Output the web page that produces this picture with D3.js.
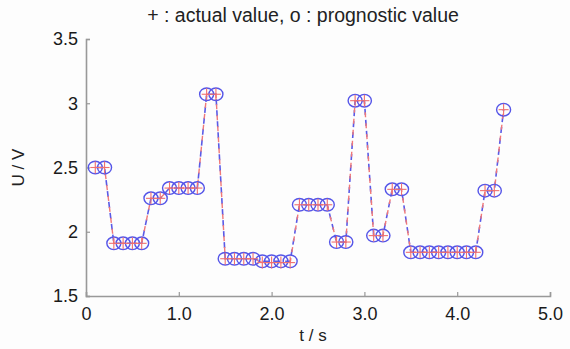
<!DOCTYPE html>
<html>
<head>
<meta charset="utf-8">
<script src="https://cdn.jsdelivr.net/npm/d3@7"></script>
<style>
  body { margin: 0; background: #fdfdfd; }
  svg { display: block; font-family: "Liberation Sans", Arial, sans-serif; }
</style>
</head>
<body>
<figure id="chart" style="margin:0"></figure>
<script>
// time samples (s)
const times = [0.1, 0.2, 0.3, 0.4, 0.5, 0.6, 0.7, 0.8, 0.9, 1.0,
  1.1, 1.2, 1.3, 1.4, 1.5, 1.6, 1.7, 1.8, 1.9, 2.0,
  2.1, 2.2, 2.3, 2.4, 2.5, 2.6, 2.7, 2.8, 2.9, 3.0,
  3.1, 3.2, 3.3, 3.4, 3.5, 3.6, 3.7, 3.8, 3.9, 4.0,
  4.1, 4.2, 4.3, 4.4, 4.5];
// actual voltage (+)
const actual = [2.50, 2.50, 1.91, 1.91, 1.91, 1.91, 2.26, 2.26, 2.34, 2.34,
  2.34, 2.34, 3.07, 3.07, 1.79, 1.79, 1.79, 1.79, 1.76, 1.76,
  1.76, 1.76, 2.21, 2.21, 2.21, 2.21, 1.92, 1.92, 3.02, 3.02,
  1.97, 1.97, 2.33, 2.33, 1.84, 1.84, 1.84, 1.84, 1.84, 1.84,
  1.84, 1.84, 2.32, 2.32, 2.95];
// prognostic voltage (o)
const prognostic = [2.50, 2.50, 1.91, 1.91, 1.91, 1.91, 2.26, 2.26, 2.34, 2.34,
  2.34, 2.34, 3.07, 3.07, 1.79, 1.79, 1.79, 1.79, 1.77, 1.77,
  1.77, 1.77, 2.21, 2.21, 2.21, 2.21, 1.92, 1.92, 3.02, 3.02,
  1.97, 1.97, 2.33, 2.33, 1.84, 1.84, 1.84, 1.84, 1.84, 1.84,
  1.84, 1.84, 2.32, 2.32, 2.95];
const xTicks = [0, 1, 2, 3, 4, 5];
const xTickLabels = ["0", "1.0", "2.0", "3.0", "4.0", "5.0"];
const yTicks = [1.5, 2, 2.5, 3, 3.5];
const yTickLabels = ["1.5", "2", "2.5", "3", "3.5"];

const width = 570, height = 349;
const margin = { top: 39, right: 20, bottom: 53, left: 86 };

const svg = d3.select("figure#chart")
  .append("svg")
  .attr("width", width)
  .attr("height", height);

const x = d3.scaleLinear().domain([0, 5]).range([margin.left, 550]);
const y = d3.scaleLinear().domain([1.5, 3.5]).range([height - margin.bottom, margin.top]);

// title
svg.append("text")
  .attr("x", 303).attr("y", 22)
  .attr("text-anchor", "middle")
  .style("font-size", "19.5px")
  .style("fill", "#222")
  .text("+ : actual value, o : prognostic value");

// axes (inward ticks, no box)
const xAxis = svg.append("g")
  .attr("transform", "translate(0," + y(1.5) + ")")
  .call(d3.axisBottom(x).tickValues(xTicks).tickSize(-4).tickPadding(9)
    .tickFormat((d, i) => xTickLabels[i]));
const yAxis = svg.append("g")
  .attr("transform", "translate(" + x(0) + ",0)")
  .call(d3.axisLeft(y).tickValues(yTicks).tickSize(-4).tickPadding(8)
    .tickFormat((d, i) => yTickLabels[i]));

[xAxis, yAxis].forEach(g => {
  g.select(".domain").attr("stroke", "#999").attr("stroke-width", 1.6);
  g.selectAll(".tick line").attr("stroke", "#999").attr("stroke-width", 1.2);
  g.selectAll(".tick text").style("font-size", "18px").attr("fill", "#1a1a1a");
});
xAxis.selectAll(".tick text").attr("dy", "0.85em");

// axis labels
svg.append("text")
  .attr("x", 313).attr("y", 341)
  .attr("text-anchor", "middle")
  .style("font-size", "17px").style("fill", "#222")
  .text("t / s");
svg.append("text")
  .attr("transform", "translate(24," + y(2.5) + ") rotate(-90)")
  .attr("text-anchor", "middle")
  .style("font-size", "17px").style("fill", "#222")
  .text("U / V");

const actualData = times.map((t, i) => ({ t: t, v: actual[i] }));
const progData = times.map((t, i) => ({ t: t, v: prognostic[i] }));

const line = d3.line().x(d => x(d.t)).y(d => y(d.v));

// dashed lines, red and blue interleaved
svg.append("path")
  .datum(progData)
  .attr("d", line)
  .attr("fill", "none")
  .attr("stroke", "#5a5ae6")
  .attr("stroke-width", 1.6)
  .attr("stroke-dasharray", "6,5");
svg.append("path")
  .datum(actualData)
  .attr("d", line)
  .attr("fill", "none")
  .attr("stroke", "#f07878")
  .attr("stroke-width", 1.4)
  .attr("stroke-dasharray", "5,6")
  .attr("stroke-dashoffset", 6);

// prognostic circles
svg.selectAll("ellipse.prog")
  .data(progData)
  .enter()
  .append("ellipse")
  .attr("class", "prog")
  .attr("cx", d => x(d.t))
  .attr("cy", d => y(d.v))
  .attr("rx", 7)
  .attr("ry", 6.3)
  .attr("fill", "none")
  .attr("stroke", "#5555e8")
  .attr("stroke-width", 1.4);

// actual plus markers
const plus = svg.selectAll("g.plus")
  .data(actualData)
  .enter()
  .append("g")
  .attr("class", "plus")
  .attr("transform", d => "translate(" + x(d.t) + "," + y(d.v) + ")");
plus.append("line").attr("x1", -5).attr("x2", 5).attr("y1", 0).attr("y2", 0)
  .attr("stroke", "#f07070").attr("stroke-width", 1.1);
plus.append("line").attr("x1", 0).attr("x2", 0).attr("y1", -6).attr("y2", 6)
  .attr("stroke", "#f07070").attr("stroke-width", 1.1);
</script>
</body>
</html>
